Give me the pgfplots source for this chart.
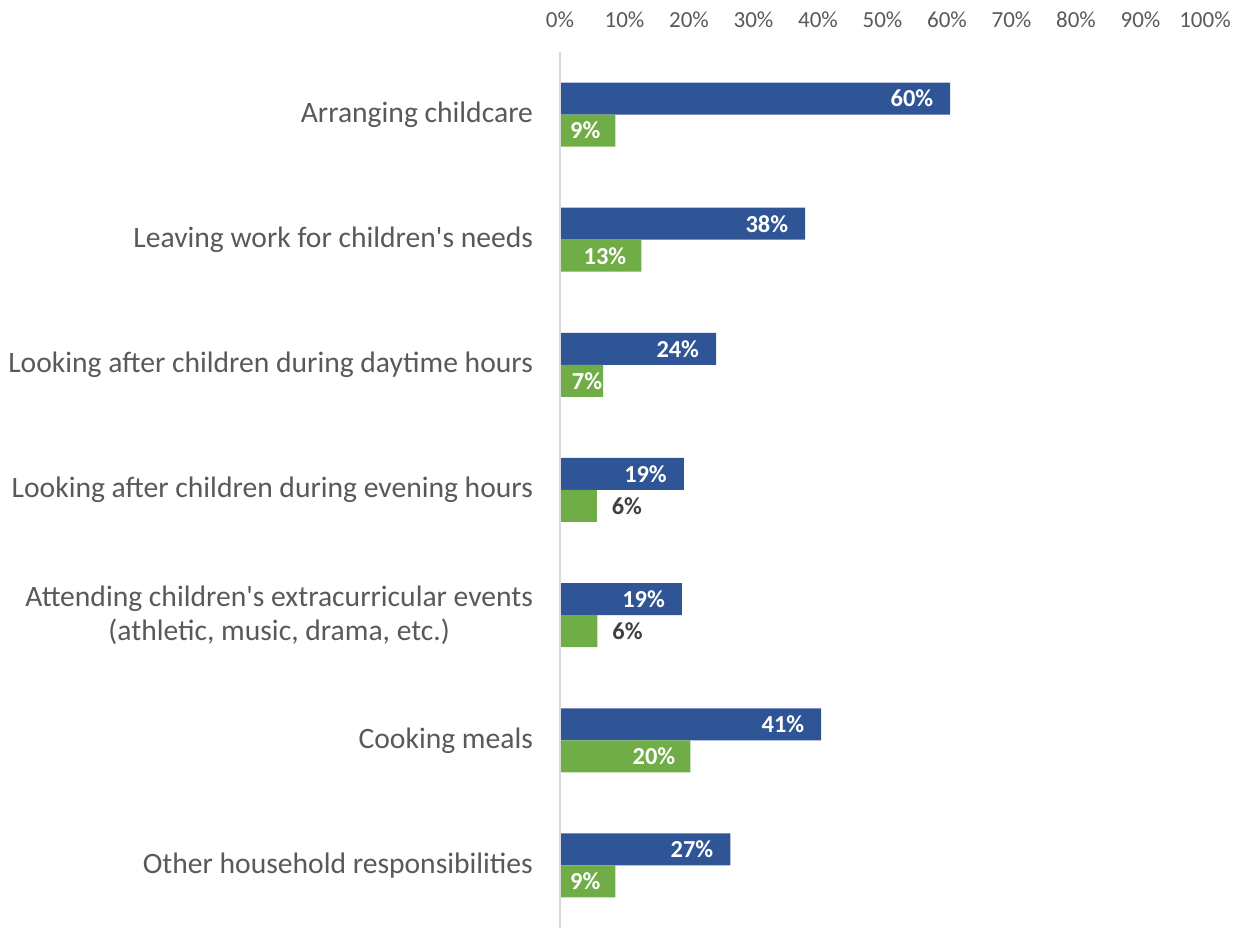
\documentclass[border=0pt]{standalone}
\usepackage{pgfplots}
\pgfplotsset{compat=1.18}
\usepackage{fontspec}
\setmainfont{Carlito}
\definecolor{cblue}{HTML}{2F5597}
\definecolor{cgreen}{HTML}{70AD47}
\definecolor{ctext}{HTML}{595959}
\definecolor{clab}{HTML}{404040}
\definecolor{caxis}{HTML}{D9D9D9}
\begin{document}
\begin{tikzpicture}
\begin{axis}[
  name=ax,
  scale only axis,
  width=322.5pt, height=438pt,
  xbar, bar width=16pt,
  xmin=0, xmax=100,
  ymin=-0.5, ymax=6.5,
  xtick={0,10,...,100},
  xticklabels={0\%,10\%,20\%,30\%,40\%,50\%,60\%,70\%,80\%,90\%,100\%},
  xticklabel pos=upper,
  ytick={0,...,6},
  yticklabels={Other household responsibilities,Cooking meals,{Attending children\textquotesingle s extracurricular events\\(athletic, music, drama, etc.)},Looking after children during evening hours,Looking after children during daytime hours,Leaving work for children\textquotesingle s needs,Arranging childcare},
  yticklabel style={align=center, font=\fontsize{14.8}{17}\selectfont, text=ctext, xshift=-10pt},
  xticklabel style={font=\fontsize{11.5}{13}\selectfont, text=ctext, yshift=8.5pt},
  major tick length=0pt,
  axis line style={draw=none},
  clip=false,
]
% blue bars
\addplot[fill=cblue, draw=none, bar shift=8pt,
  point meta=explicit symbolic,
  nodes near coords={\pgfplotspointmeta\%},
  nodes near coords style={anchor=east, xshift=-5pt, text=white, font=\fontsize{12.2}{14}\selectfont\bfseries}]
  coordinates {(60.5,6)[60] (38,5)[38] (24.2,4)[24] (19.2,3)[19] (18.9,2)[19] (40.5,1)[41] (26.4,0)[27]};
% green bars
\addplot[fill=cgreen, draw=none, bar shift=-8pt]
  coordinates {(8.6,6) (12.6,5) (6.7,4) (5.7,3) (5.8,2) (20.2,1) (8.6,0)};
% green labels inside
\addplot[draw=none, fill=none, bar shift=-8pt,
  point meta=explicit symbolic,
  nodes near coords={\pgfplotspointmeta\%},
  nodes near coords style={anchor=east, xshift=-4pt, text=white, font=\fontsize{12.2}{14}\selectfont\bfseries}]
  coordinates {(8.6,6)[9] (12.6,5)[13] (20.2,1)[20] (8.6,0)[9]};
% small green label (7%)
\addplot[draw=none, fill=none, bar shift=-8pt,
  point meta=explicit symbolic,
  nodes near coords={\pgfplotspointmeta\%},
  nodes near coords style={anchor=east, xshift=3pt, text=white, font=\fontsize{12.2}{14}\selectfont\bfseries}]
  coordinates {(6.7,4)[7]};
% green labels outside
\addplot[draw=none, fill=none, bar shift=-8pt,
  point meta=explicit symbolic,
  nodes near coords={\pgfplotspointmeta\%},
  nodes near coords style={anchor=west, xshift=4pt, text=clab, font=\fontsize{12.2}{14}\selectfont\bfseries}]
  coordinates {(5.7,3)[6] (5.8,2)[6]};
\draw[caxis, line width=1pt] (axis cs:0,-0.5) -- (axis cs:0,6.5);
\end{axis}
\pgfresetboundingbox
\path[use as bounding box] ([xshift=-280pt]ax.south west) rectangle ([xshift=20.5pt,yshift=26pt]ax.north east);
\end{tikzpicture}
\end{document}
